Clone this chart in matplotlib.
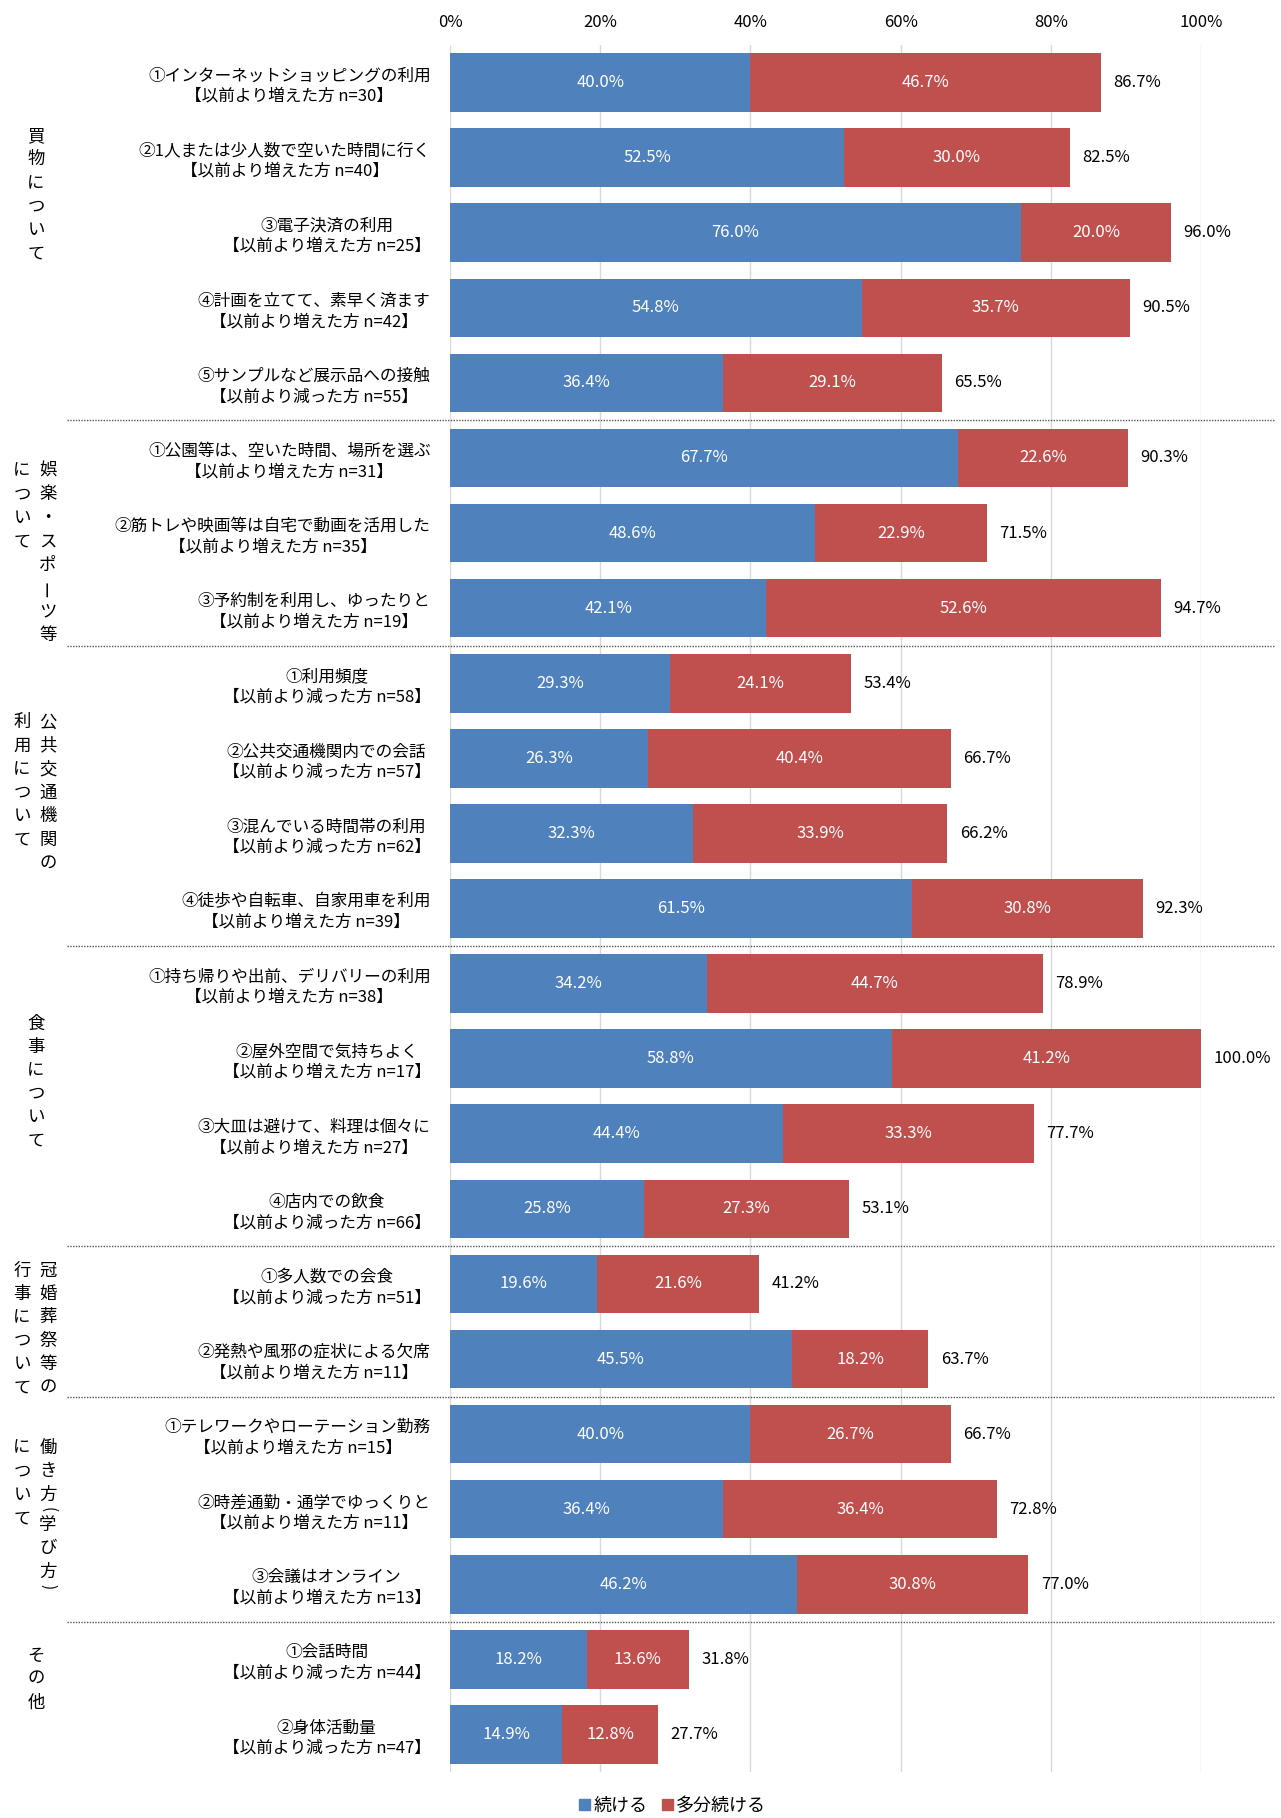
import matplotlib
matplotlib.use("Agg")
import matplotlib.pyplot as plt
from matplotlib.patches import Patch
from matplotlib.lines import Line2D
from matplotlib.transforms import blended_transform_factory

plt.rcParams['font.family'] = ['Noto Sans CJK JP', 'DejaVu Sans']

# 項目ラベル（上から順）
labels = [
    "①インターネットショッピングの利用\n【以前より増えた方 n=30】",
    "②1人または少人数で空いた時間に行く\n【以前より増えた方 n=40】",
    "③電子決済の利用\n【以前より増えた方 n=25】",
    "④計画を立てて、素早く済ます\n【以前より増えた方 n=42】",
    "⑤サンプルなど展示品への接触\n【以前より減った方 n=55】",
    "①公園等は、空いた時間、場所を選ぶ\n【以前より増えた方 n=31】",
    "②筋トレや映画等は自宅で動画を活用した\n【以前より増えた方 n=35】",
    "③予約制を利用し、ゆったりと\n【以前より増えた方 n=19】",
    "①利用頻度\n【以前より減った方 n=58】",
    "②公共交通機関内での会話\n【以前より減った方 n=57】",
    "③混んでいる時間帯の利用\n【以前より減った方 n=62】",
    "④徒歩や自転車、自家用車を利用\n【以前より増えた方 n=39】",
    "①持ち帰りや出前、デリバリーの利用\n【以前より増えた方 n=38】",
    "②屋外空間で気持ちよく\n【以前より増えた方 n=17】",
    "③大皿は避けて、料理は個々に\n【以前より増えた方 n=27】",
    "④店内での飲食\n【以前より減った方 n=66】",
    "①多人数での会食\n【以前より減った方 n=51】",
    "②発熱や風邪の症状による欠席\n【以前より増えた方 n=11】",
    "①テレワークやローテーション勤務\n【以前より増えた方 n=15】",
    "②時差通勤・通学でゆっくりと\n【以前より増えた方 n=11】",
    "③会議はオンライン\n【以前より増えた方 n=13】",
    "①会話時間\n【以前より減った方 n=44】",
    "②身体活動量\n【以前より減った方 n=47】",
]

# 続ける / 多分続ける / 合計 (%)
tsuzukeru = [40.0, 52.5, 76.0, 54.8, 36.4, 67.7, 48.6, 42.1, 29.3, 26.3, 32.3, 61.5,
             34.2, 58.8, 44.4, 25.8, 19.6, 45.5, 40.0, 36.4, 46.2, 18.2, 14.9]
tabun = [46.7, 30.0, 20.0, 35.7, 29.1, 22.6, 22.9, 52.6, 24.1, 40.4, 33.9, 30.8,
         44.7, 41.2, 33.3, 27.3, 21.6, 18.2, 26.7, 36.4, 30.8, 13.6, 12.8]
totals = [86.7, 82.5, 96.0, 90.5, 65.5, 90.3, 71.5, 94.7, 53.4, 66.7, 66.2, 92.3,
          78.9, 100.0, 77.7, 53.1, 41.2, 63.7, 66.7, 72.8, 77.0, 31.8, 27.7]

# グループ見出し（右列, 左列, 項目数）
groups = [
    ("買物について", "", 5),
    ("娯楽・スポーツ等", "について", 3),
    ("公共交通機関の", "利用について", 4),
    ("食事について", "", 4),
    ("冠婚葬祭等の", "行事について", 2),
    ("働き方（学び方）", "について", 3),
    ("その他", "", 2),
]
# 見出しの書き出し位置（行単位）
group_tops = [0.71, 5.17, 8.52, 12.53, 15.82, 18.18, 20.95]

BLUE = "#4F81BD"
RED = "#C0504D"

W, H = 1281, 1818
fig = plt.figure(figsize=(W / 100, H / 100), dpi=100)
ax = fig.add_axes([450 / W, 1 - 1772 / H, (1201 - 450) / W, (1772 - 45) / H])

y = list(range(len(labels)))
b1 = ax.barh(y, tsuzukeru, height=0.78, color=BLUE, label="続ける", zorder=3)
b2 = ax.barh(y, tabun, left=tsuzukeru, height=0.78, color=RED, label="多分続ける", zorder=3)

ax.bar_label(b1, labels=[f"{v:.1f}%" for v in tsuzukeru], label_type="center",
             color="white", fontsize=12)
ax.bar_label(b2, labels=[f"{v:.1f}%" for v in tabun], label_type="center",
             color="white", fontsize=12)
ax.bar_label(b2, labels=[f"{v:.1f}%" for v in totals], padding=9,
             color="black", fontsize=12)

ax.set_xlim(0, 100)
ax.set_ylim(len(labels) - 0.5, -0.5)
ax.set_xticks([0, 20, 40, 60, 80, 100])
ax.set_xticklabels(["0%", "20%", "40%", "60%", "80%", "100%"], fontsize=12)
ax.xaxis.tick_top()
ax.tick_params(axis="x", length=0, pad=10)
ax.set_yticks(y)
ax.set_yticklabels(labels, fontsize=12, linespacing=1.25)
ax.tick_params(axis="y", length=0, pad=14)
for t in ax.get_yticklabels():
    t.set_multialignment("center")
ax.grid(axis="x", color="#D9D9D9", linewidth=1, zorder=0)
for s in ax.spines.values():
    s.set_visible(False)

trans = blended_transform_factory(fig.transFigure, ax.transData)

# グループ区切りの点線
pos = 0
for name, sub, n in groups[:-1]:
    pos += n
    ax.add_line(Line2D([67 / W, 1275 / W], [pos - 0.5, pos - 0.5], transform=trans,
                       color="#555555", linestyle=(0, (1, 1)), linewidth=1, clip_on=False))

# 縦書き見出し
step = 0.313
half = step * 0.64
vert_parens = {"（": "(", "）": ")"}


def vtext(xpix, top, s):
    yy = top
    prev_paren = False
    for i, ch in enumerate(s):
        rot = 0
        fs = 12.5
        if i > 0:
            yy += half if (ch in vert_parens or prev_paren) else step
        if ch == "ー":
            rot = 90
        prev_paren = ch in vert_parens
        if prev_paren:
            ch = vert_parens[ch]
            rot = -90
            fs = 11
        ax.text(xpix / W, yy, ch, transform=trans, ha="center", va="center",
                rotation=rot, fontsize=fs, clip_on=False)


for (right, left, n), top in zip(groups, group_tops):
    if left:
        vtext(48, top, right)
        vtext(22, top, left)
    else:
        vtext(36, top, right)

handles = [Patch(color=BLUE), Patch(color=RED)]
fig.legend(handles, ["続ける", "多分続ける"], loc="center", bbox_to_anchor=(0.525, 0.0066),
           ncol=2, frameon=False, fontsize=13, handlelength=0.6, handleheight=0.6,
           handletextpad=0.2, columnspacing=0.8)

fig.savefig("out.png", dpi=100)
